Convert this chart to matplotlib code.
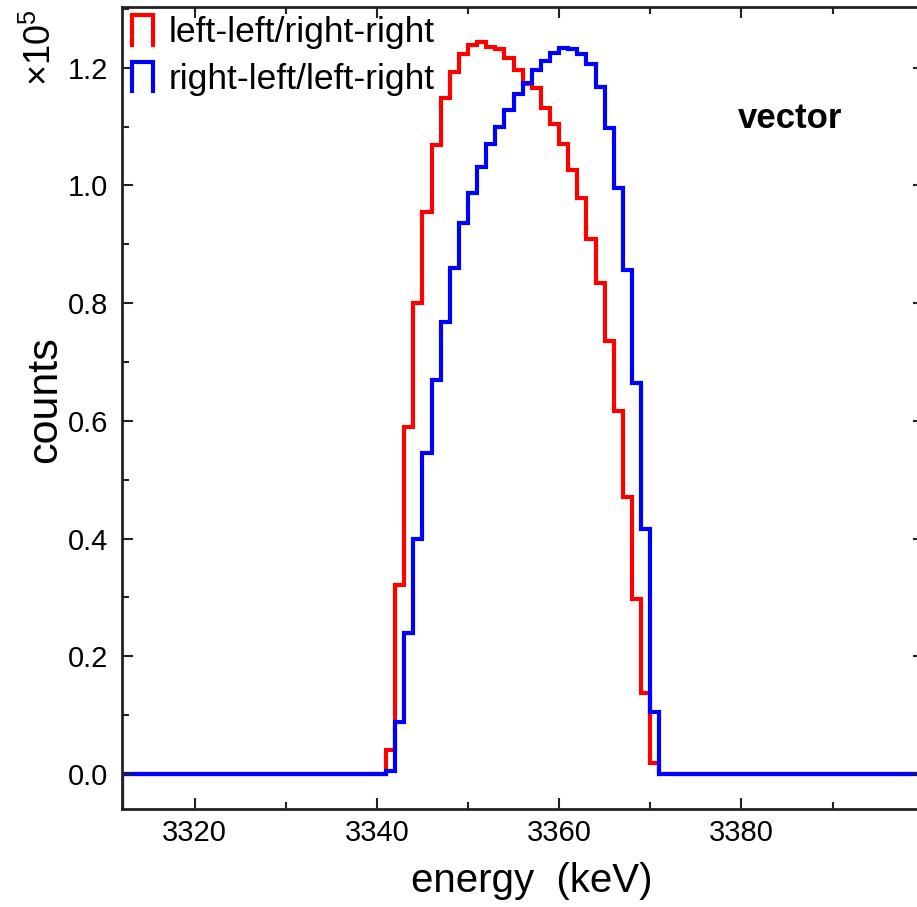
import numpy as np
import matplotlib
matplotlib.use("Agg")
import matplotlib.pyplot as plt
from matplotlib.ticker import MultipleLocator, FuncFormatter, FormatStrFormatter
from matplotlib.legend_handler import HandlerBase
from matplotlib.lines import Line2D
from matplotlib.patches import StepPatch

plt.rcParams["font.family"] = ["Liberation Sans", "DejaVu Sans"]

# histogram range, 1 keV bins
e_min = 3312
e_max = 3400

# filled bins start at 3341 keV, one value per 1 keV bin (3341 ... 3370)
first_bin = 3341
ll_rr = [4000, 32100, 59000, 80100, 95500, 106900, 114800, 119200, 122300, 123900,
         124300, 123600, 123100, 121700, 119600, 117200, 116500, 113100, 110500, 107000,
         102600, 97800, 90900, 83400, 73600, 61600, 47100, 29800, 13700, 1800]
rl_lr = [500, 8900, 24000, 40000, 54500, 66900, 76800, 86000, 93600, 98700,
         103200, 107100, 110000, 112800, 115500, 117400, 119600, 121200, 122500, 123400,
         123200, 122300, 120700, 116800, 109700, 99500, 85700, 66400, 41700, 10600]

labels = ["left-left/right-right", "right-left/left-right"]
colors = ["#ff0000", "#0000ff"]
scale = 1e5


def full_hist(vals):
    edges = np.arange(e_min, e_max + 1, 1.0)
    h = np.zeros(len(edges) - 1)
    i0 = first_bin - e_min
    h[i0:i0 + len(vals)] = np.array(vals) / scale
    return h, edges


class StepHandle(HandlerBase):
    # draws the legend key as a little histogram bar outline
    def create_artists(self, legend, orig_handle, xdescent, ydescent,
                       width, height, fontsize, trans):
        x0, x1 = -xdescent, -xdescent + width
        y0, y1 = -ydescent, -ydescent + height
        ln = Line2D([x0, x0, x1, x1], [y0, y1, y1, y0],
                    color=orig_handle.get_edgecolor(),
                    linewidth=orig_handle.get_linewidth(),
                    solid_joinstyle="miter")
        ln.set_transform(trans)
        return [ln]


fig = plt.figure(figsize=(9.17, 9.07), dpi=100)
ax = fig.add_axes([0.1327, 0.1077, 0.8746, 0.8849])

handles = []
for vals, c in zip([ll_rr, rl_lr], colors):
    h, edges = full_hist(vals)
    sp = ax.stairs(h, edges, baseline=-1, color=c, linewidth=3)
    sp.set_joinstyle("miter")
    handles.append(sp)

ax.set_xlim(e_min, e_max)
ax.set_ylim(-0.06, 1.3036)

ax.xaxis.set_major_locator(MultipleLocator(20))
ax.xaxis.set_minor_locator(MultipleLocator(10))
ax.yaxis.set_major_locator(MultipleLocator(0.2))
ax.yaxis.set_minor_locator(MultipleLocator(0.1))
# the last label sits past the image edge in the original, so leave it out
ax.xaxis.set_major_formatter(FuncFormatter(lambda v, p: "%d" % v if v < 3395 else ""))
ax.yaxis.set_major_formatter(FormatStrFormatter("%.1f"))

ax.tick_params(which="both", direction="in", top=True, right=True,
               width=1.5, color="#222222")
ax.tick_params(which="major", length=8, labelsize=21)
ax.tick_params(which="minor", length=5)
ax.tick_params(axis="x", pad=7)
ax.tick_params(axis="y", pad=10)
for s in ax.spines.values():
    s.set_linewidth(2)
    s.set_color("#222222")

ax.set_xlabel("energy  (keV)", fontsize=29)
ax.xaxis.set_label_coords(0.5116, -0.066)
ax.set_ylabel("counts", fontsize=31)
ax.yaxis.set_label_coords(-0.07, 0.51)

fig.text(0.0445, 0.9475, r"$\mathregular{\times10^{5}}$", rotation=90,
         ha="center", va="center", fontsize=26)

ax.text(0.8333, 0.8613, "vector", transform=ax.transAxes, ha="center",
        va="center", fontsize=25, fontweight="bold")

ax.legend(handles, labels, handler_map={StepPatch: StepHandle()},
          loc="upper left", bbox_to_anchor=(0.0125, 0.99), frameon=False,
          fontsize=25.5, handlelength=0.6, handleheight=0.92,
          handletextpad=0.45, labelspacing=0.36, borderpad=0, borderaxespad=0)

fig.savefig("out.png", dpi=100)
